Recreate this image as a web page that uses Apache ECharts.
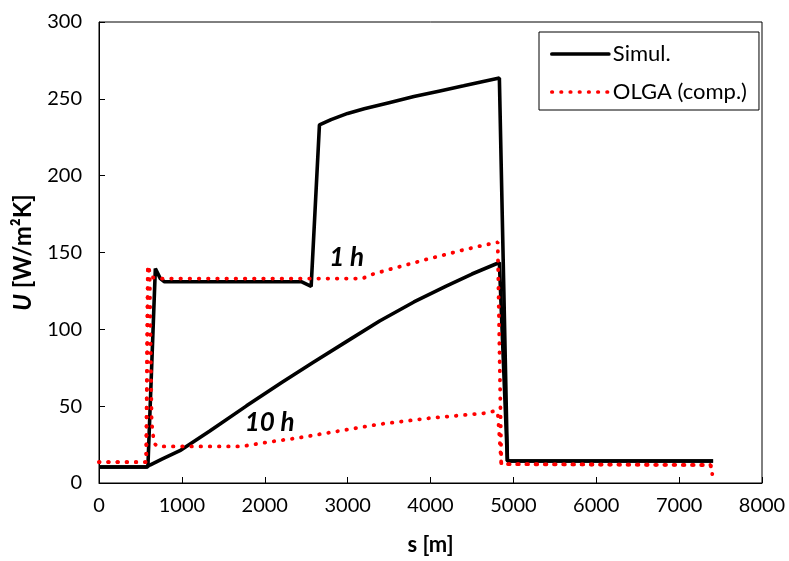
<!DOCTYPE html>
<html>
<head>
<meta charset="utf-8">
<script src="https://cdn.jsdelivr.net/npm/echarts@6/dist/echarts.min.js"></script>
<style>
html,body{margin:0;padding:0;background:#fff;}
#chart{width:789px;height:561px;}
</style>
</head>
<body>
<div id="chart"></div>
<script>
// Distance along pipeline s [m]
const xTicks = [0, 1000, 2000, 3000, 4000, 5000, 6000, 7000, 8000];
const yTicks = [0, 50, 100, 150, 200, 250, 300];

// Simulation, 1 h
const simul1hS = [0, 590, 680, 740, 790, 2440, 2560, 2660, 2800, 3000, 3200, 3500, 3800, 4100, 4400, 4831, 4928, 7410];
const simul1hU = [10.4, 10.4, 139.6, 133, 131, 131, 128, 233, 236.5, 240.5, 243.5, 247.5, 251.5, 255, 258.5, 263.6, 14.3, 14.3];

// Simulation, 10 h
const simul10hS = [0, 568, 614, 759, 976, 1337, 1780, 2200, 2582, 3000, 3386, 3800, 4189, 4500, 4831, 4928, 7410];
const simul10hU = [10.4, 10.4, 11.7, 15.6, 21, 33.8, 50.2, 65.3, 78.4, 92.5, 105.4, 117.8, 128.1, 136, 143.5, 14.3, 14.3];

// OLGA (comp.), 1 h
const olga1hS = [0, 570, 590, 630, 700, 3180, 3265, 3506, 3727, 3948, 4169, 4370, 4590, 4811, 4855, 7380, 7400];
const olga1hU = [13.6, 13.6, 141.5, 134, 133, 133, 135.3, 139, 142.2, 145.5, 148.5, 151.3, 154.1, 156.7, 12.3, 11.7, 5.8];

// OLGA (comp.), 10 h
const olga10hS = [0, 570, 590, 612, 635, 650, 675, 710, 1719, 2036, 2361, 2803, 3386, 3988, 4671, 4783, 4811, 4855, 7380, 7400];
const olga10hU = [13.6, 13.6, 141.5, 134, 40, 31.8, 25.3, 23.8, 23.8, 26.6, 29, 33, 38.3, 42.2, 45.5, 47, 46, 12.3, 11.7, 5.8];

// Curve annotations
const noteText = ['1 h', '10 h'];
const noteS = [2988, 2060];
const noteU = [146.8, 39];

const zip = (a, b) => a.map((v, i) => [v, b[i]]);
const FONT = 'Lato';

const blackStyle = { color: '#000', width: 3.6 };
const redStyle = { color: '#FF0000', width: 3.8, type: [0.5, 8.7], cap: 'round' };

const chart = echarts.init(document.getElementById('chart'), null, { renderer: 'canvas' });
chart.setOption({
  animation: false,
  backgroundColor: '#fff',
  textStyle: { fontFamily: FONT, color: '#000' },
  grid: { left: 99, top: 22, right: 27, bottom: 77, show: true, borderColor: '#000', borderWidth: 1, containLabel: false },
  legend: {
    data: ['Simul.', 'OLGA (comp.)'],
    orient: 'vertical',
    left: 539, top: 32,
    padding: [11, 12, 7, 11],
    itemWidth: 57, itemHeight: 14, itemGap: 16,
    borderColor: '#000', borderWidth: 1,
    backgroundColor: '#fff',
    itemStyle: { opacity: 0 },
    lineStyle: { width: 3.7, cap: 'round' },
    textStyle: { fontFamily: FONT, fontSize: 22, color: '#000', lineHeight: 22, padding: [0, 0, 0, -1] },
    selectedMode: false
  },
  xAxis: {
    type: 'value', min: 0, max: 8000, interval: 1000,
    name: 's [m]', nameLocation: 'middle', nameGap: 51,
    nameTextStyle: { fontFamily: FONT, fontSize: 22, fontWeight: 'bold', color: '#000' },
    axisLine: { show: true, lineStyle: { color: '#000', width: 1 } },
    axisTick: { show: true, inside: true, length: 6, lineStyle: { color: '#000' } },
    axisLabel: { fontFamily: FONT, fontSize: 20, color: '#000', margin: 13,
      formatter: v => xTicks.includes(v) ? String(v) : '' },
    splitLine: { show: false }
  },
  yAxis: {
    type: 'value', min: 0, max: 300, interval: 50,
    name: '{i|U} [W/m²K]', nameLocation: 'middle', nameGap: 64, nameRotate: 90,
    nameTextStyle: { fontFamily: FONT, fontSize: 24, fontWeight: 'bold', color: '#000',
      rich: { i: { fontFamily: FONT, fontSize: 24, fontWeight: 'bold', fontStyle: 'italic', color: '#000' } } },
    axisLine: { show: true, lineStyle: { color: '#000', width: 1 } },
    axisTick: { show: true, inside: true, length: 6, lineStyle: { color: '#000' } },
    axisLabel: { fontFamily: FONT, fontSize: 20, color: '#000', margin: 17,
      formatter: v => yTicks.includes(v) ? String(v) : '' },
    splitLine: { show: false }
  },
  series: [
    { name: 'Simul.', type: 'line', data: zip(simul1hS, simul1hU), showSymbol: false, symbol: 'none', lineStyle: blackStyle, itemStyle: { color: '#000' }, z: 3 },
    { name: 'Simul.', type: 'line', data: zip(simul10hS, simul10hU), showSymbol: false, symbol: 'none', lineStyle: blackStyle, itemStyle: { color: '#000' }, z: 3 },
    { name: 'OLGA (comp.)', type: 'line', data: zip(olga1hS, olga1hU), showSymbol: false, symbol: 'none', lineStyle: redStyle, itemStyle: { color: '#FF0000' }, z: 4 },
    { name: 'OLGA (comp.)', type: 'line', data: zip(olga10hS, olga10hU), showSymbol: false, symbol: 'none', lineStyle: redStyle, itemStyle: { color: '#FF0000' }, z: 4 },
    { name: 'notes', type: 'scatter', symbolSize: 0, silent: true, z: 5,
      itemStyle: { opacity: 1, color: '#000' },
      data: noteText.map((t, i) => ({ value: [noteS[i], noteU[i]], name: t })),
      label: { show: true, position: 'inside', formatter: p => p.name, opacity: 1,
        fontFamily: FONT, fontSize: 26, fontWeight: 'bold', fontStyle: 'italic', color: '#000' } }
  ]
});
</script>
</body>
</html>
